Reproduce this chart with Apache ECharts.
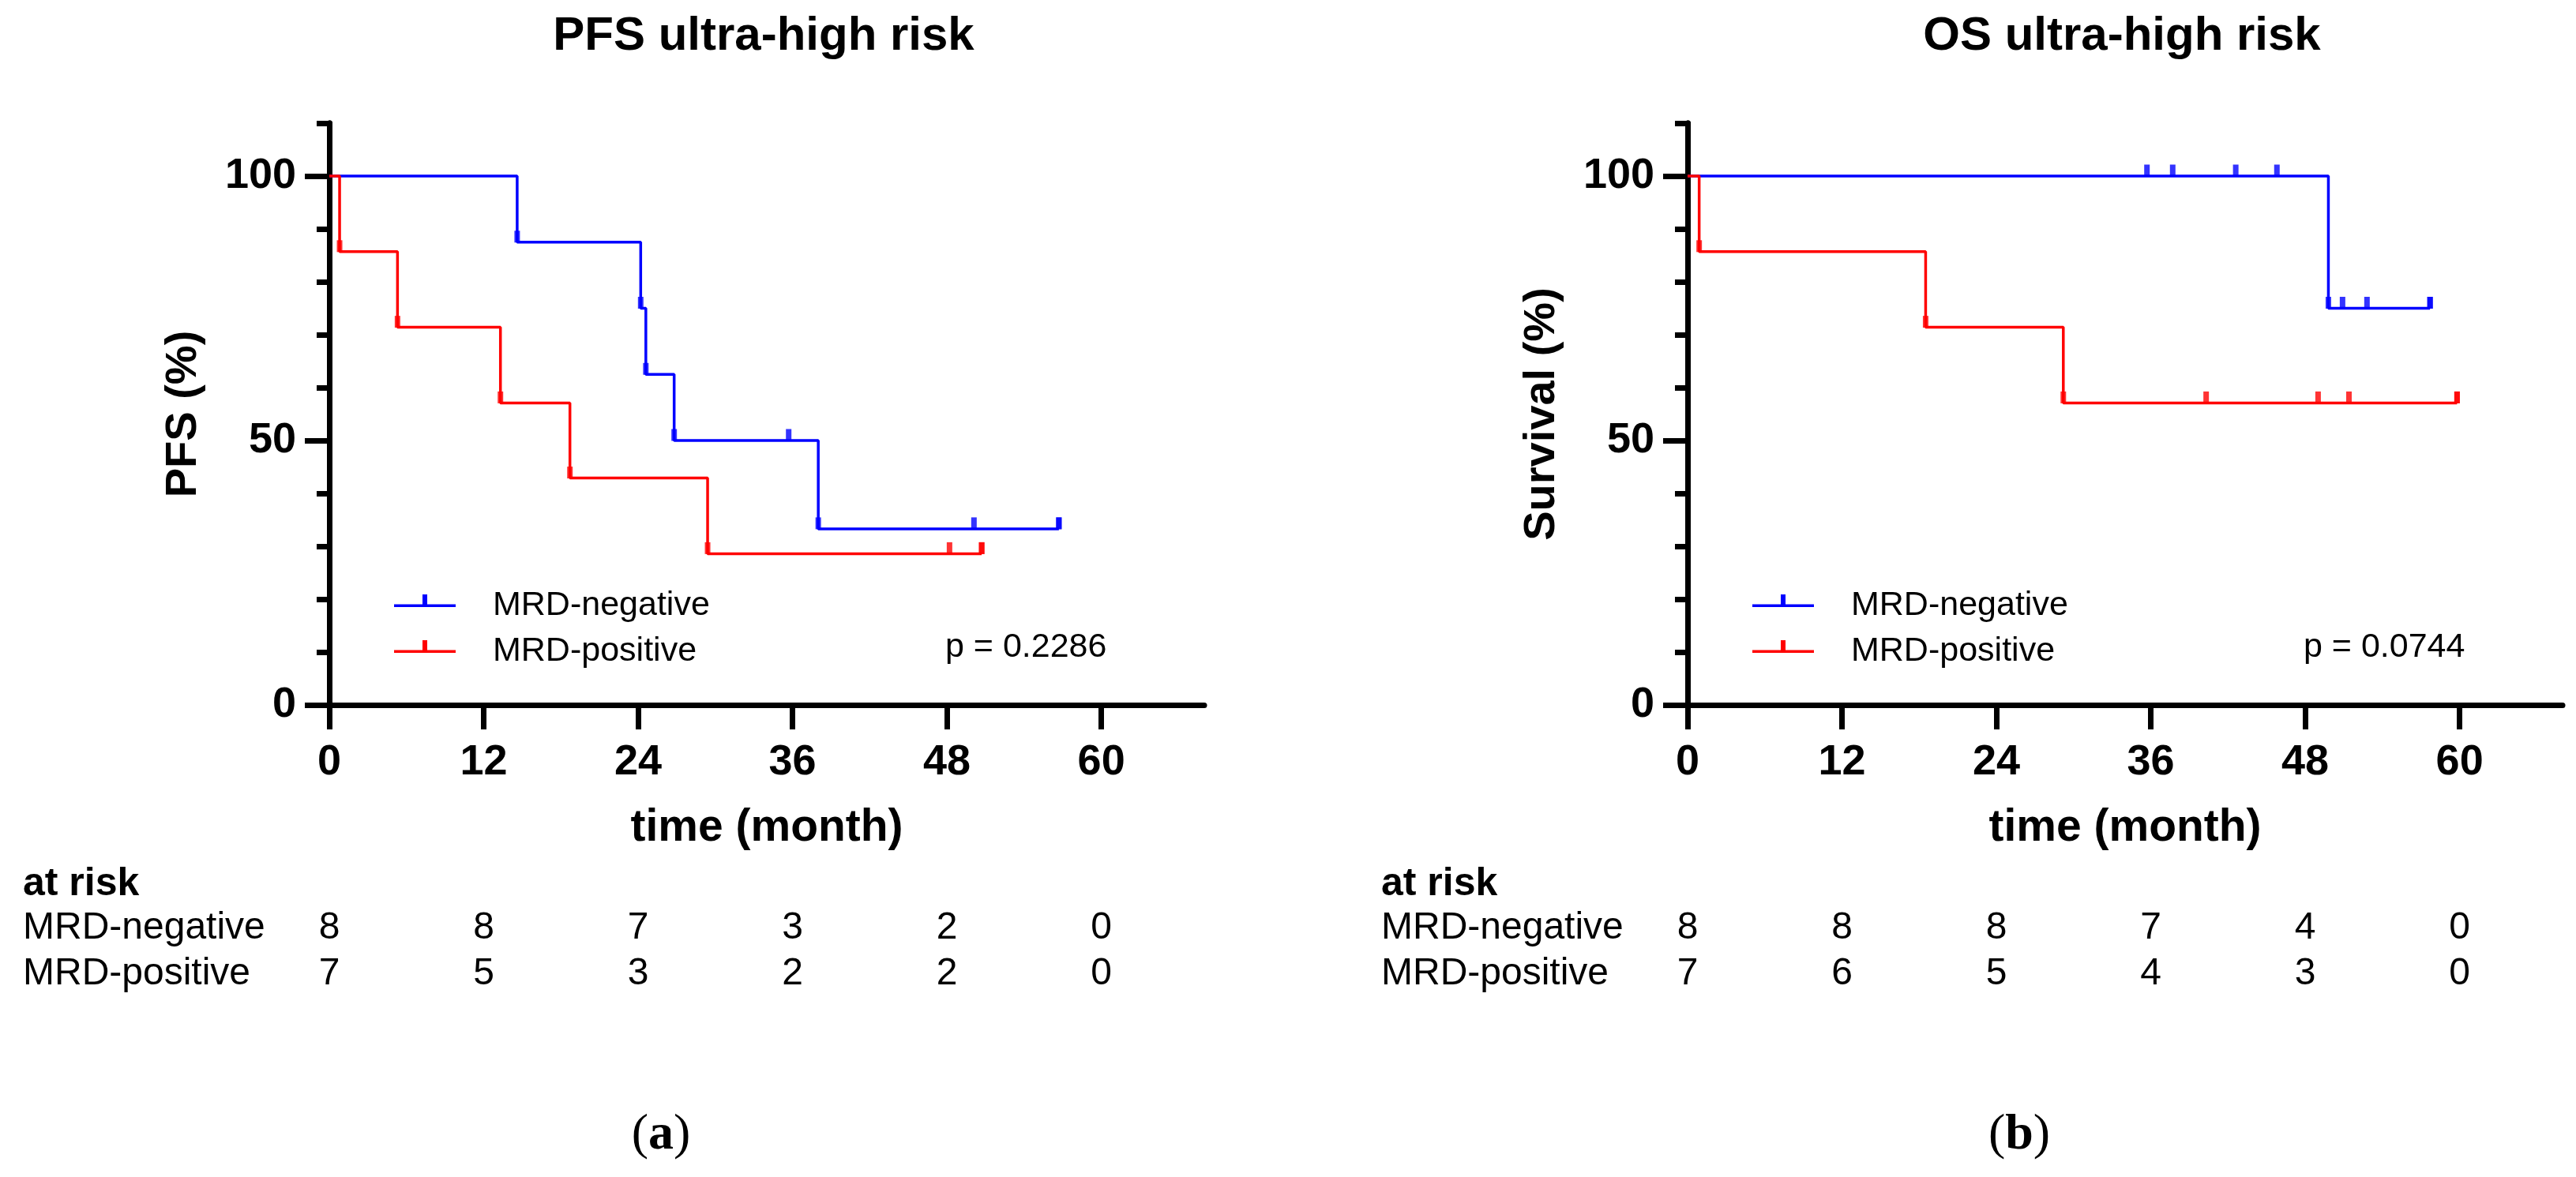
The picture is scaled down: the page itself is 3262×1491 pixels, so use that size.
<!DOCTYPE html>
<html>
<head>
<meta charset="utf-8">
<title>PFS / OS ultra-high risk</title>
<script src="https://cdn.jsdelivr.net/npm/echarts@6.0.0/dist/echarts.min.js"></script>
<style>
    html, body { margin: 0; padding: 0; background: #fff; }
    #main { width: 3262px; height: 1491px; }
</style>
</head>
<body>
<div id="main"></div>
<script>
const SANS = '"Liberation Sans", Arial, Helvetica, sans-serif';
const SERIF = '"Liberation Serif", "Times New Roman", serif';
const BLUE = '#0000ff';
const RED = '#ff0000';

// 刻度
const xTicks = [0, 12, 24, 36, 48, 60];
const yTicks = [0, 50, 100];
const groupNames = ['MRD-negative', 'MRD-positive'];

// PFS (a)
const pfsNegTime = [0, 14.6, 24.2, 24.6, 26.8, 38.0, 56.7];
const pfsNegSurv = [100, 87.5, 75, 62.5, 50, 33.3, 33.3];
const pfsNegCensTime = [35.7, 50.1, 56.7];
const pfsNegCensSurv = [50, 33.3, 33.3];
const pfsPosTime = [0, 0.8, 5.3, 13.3, 18.7, 29.4, 50.7];
const pfsPosSurv = [100, 85.7, 71.4, 57.1, 42.9, 28.6, 28.6];
const pfsPosCensTime = [48.2, 50.7];
const pfsPosCensSurv = [28.6, 28.6];
const pfsRiskNeg = [8, 8, 7, 3, 2, 0];
const pfsRiskPos = [7, 5, 3, 2, 2, 0];

// OS (b)
const osNegTime = [0, 49.8, 57.7];
const osNegSurv = [100, 75, 75];
const osNegCensTime = [35.7, 37.7, 42.6, 45.8, 50.9, 52.8, 57.7];
const osNegCensSurv = [100, 100, 100, 100, 75, 75, 75];
const osPosTime = [0, 0.9, 18.5, 29.2, 59.8];
const osPosSurv = [100, 85.7, 71.4, 57.1, 57.1];
const osPosCensTime = [40.3, 49.0, 51.4, 59.8];
const osPosCensSurv = [57.1, 57.1, 57.1, 57.1];
const osRiskNeg = [8, 8, 8, 7, 4, 0];
const osRiskPos = [7, 6, 5, 4, 3, 0];

const panels = [
    {
        title: 'PFS ultra-high risk', yName: 'PFS (%)', pText: 'p = 0.2286', tag: 'a',
        neg: [pfsNegTime, pfsNegSurv, pfsNegCensTime, pfsNegCensSurv],
        pos: [pfsPosTime, pfsPosSurv, pfsPosCensTime, pfsPosCensSurv],
        risk: [pfsRiskNeg, pfsRiskPos]
    },
    {
        title: 'OS ultra-high risk', yName: 'Survival (%)', pText: 'p = 0.0744', tag: 'b',
        neg: [osNegTime, osNegSurv, osNegCensTime, osNegCensSurv],
        pos: [osPosTime, osPosSurv, osPosCensTime, osPosCensSurv],
        risk: [osRiskNeg, osRiskPos]
    }
];

// 布局
const gridLeft = [417, 2137];
const gridTop = 156;
const gridW = 1108;
const gridH = 737;

// 图例图标: 横线 + 中间小竖线 (末尾极小的点只为撑开宽度)
const legendIcon = 'path://M0,12.5 L78,12.5 L78,16 L0,16 Z M36,0 L42,0 L42,16 L36,16 Z M119.9,27.9 L120,27.9 L120,28 L119.9,28 Z';

function zip(a, b) {
    return a.map((v, i) => [v, b[i]]);
}

function black(size, weight) {
    return { color: '#000', fontSize: size, fontWeight: weight || 'normal', fontFamily: SANS };
}

let grid = [], xAxis = [], yAxis = [], series = [], legend = [];

panels.forEach((p, i) => {
    grid.push({ left: gridLeft[i], top: gridTop, width: gridW, height: gridH, containLabel: false });

    xAxis.push({
        type: 'value', gridIndex: i, min: 0, max: 68,
        axisLine: { show: true, onZero: false, lineStyle: { color: '#000', width: 7 } },
        axisTick: { show: true, length: 31, customValues: xTicks, lineStyle: { color: '#000', width: 7 } },
        axisLabel: Object.assign({ customValues: xTicks, margin: 46 }, black(54, 'bold')),
        splitLine: { show: false },
        name: 'time (month)', nameLocation: 'middle', nameGap: 128,
        nameTextStyle: black(57, 'bold')
    });

    // 短刻度 (每 10%)
    yAxis.push({
        type: 'value', gridIndex: i, min: 0, max: 110, interval: 10,
        axisLine: { show: true, lineStyle: { color: '#000', width: 7 } },
        axisTick: { show: true, length: 16, lineStyle: { color: '#000', width: 7 } },
        axisLabel: { show: false },
        splitLine: { show: false }
    });
    // 长刻度 0/50/100
    yAxis.push({
        type: 'value', gridIndex: i, min: 0, max: 110, position: 'left',
        axisLine: { show: true, lineStyle: { color: '#000', width: 7 } },
        axisTick: { show: true, length: 31, customValues: yTicks, lineStyle: { color: '#000', width: 7 } },
        axisLabel: Object.assign({ customValues: yTicks, margin: 42 }, black(54, 'bold')),
        splitLine: { show: false },
        name: p.yName, nameLocation: 'middle', nameGap: 156,
        nameTextStyle: black(56, 'bold')
    });

    [p.neg, p.pos].forEach((d, k) => {
        let color = k === 0 ? BLUE : RED;
        let steps = zip(d[0], d[1]);
        series.push({
            type: 'line', name: groupNames[k], xAxisIndex: i, yAxisIndex: 2 * i,
            step: 'end', showSymbol: false, symbol: 'none', silent: true, z: 3,
            lineStyle: { color: color, width: 3.5 }, itemStyle: { color: color },
            data: steps
        });
        // 事件点与删失点的小竖标
        series.push({
            type: 'scatter', name: groupNames[k], xAxisIndex: i, yAxisIndex: 2 * i,
            symbol: 'rect', symbolSize: [7, 15], symbolOffset: [0, -7], silent: true, z: 4,
            itemStyle: { color: color },
            data: steps.slice(1).concat(zip(d[2], d[3]))
        });
    });

    legend.push({
        data: groupNames, orient: 'vertical', left: gridLeft[i] + 77, top: 739,
        icon: legendIcon, itemWidth: 120, itemHeight: 28, itemGap: 12,
        selectedMode: false,
        textStyle: Object.assign({ lineHeight: 46 }, black(43))
    });
});

let chart = echarts.init(document.getElementById('main'), null, { renderer: 'canvas' });
chart.setOption({
    backgroundColor: '#fff',
    animation: false,
    grid: grid,
    xAxis: xAxis,
    yAxis: yAxis,
    legend: legend,
    series: series
});

// 标题、p 值、风险表
function text(x, y, str, size, weight, align) {
    return {
        type: 'text', x: x, y: y, silent: true,
        style: {
            text: str, fill: '#000', fontSize: size, fontWeight: weight, fontFamily: SANS,
            textAlign: align, textVerticalAlign: 'middle', align: align, verticalAlign: 'middle'
        }
    };
}

let els = [];
panels.forEach((p, i) => {
    let x0 = gridLeft[i];
    let mid = chart.convertToPixel({ xAxisIndex: i }, 34);
    els.push(text(mid - 4, 46, p.title, 60, 'bold', 'center'));
    els.push(text(x0 + 780, 820, p.pText, 43, 'normal', 'left'));
    els.push(text(x0 - 388, 1120, 'at risk', 50, 'bold', 'left'));
    groupNames.forEach((n, k) => {
        let y = 1176 + k * 58;
        els.push(text(x0 - 388, y, n, 48, 'normal', 'left'));
        p.risk[k].forEach((v, j) => {
            let x = chart.convertToPixel({ xAxisIndex: i }, xTicks[j]);
            els.push(text(x, y, String(v), 48, 'normal', 'center'));
        });
    });
    els.push({
        type: 'text', x: x0 + 420, y: 1438, silent: true,
        style: {
            text: '{p|(}{b|' + p.tag + '}{p|)}',
            textAlign: 'center', textVerticalAlign: 'middle', align: 'center', verticalAlign: 'middle',
            rich: {
                p: { fontFamily: SERIF, fontSize: 64, fill: '#000' },
                b: { fontFamily: SERIF, fontSize: 64, fontWeight: 'bold', fill: '#000' }
            }
        }
    });
});
chart.setOption({ graphic: { elements: els } });
</script>
</body>
</html>
